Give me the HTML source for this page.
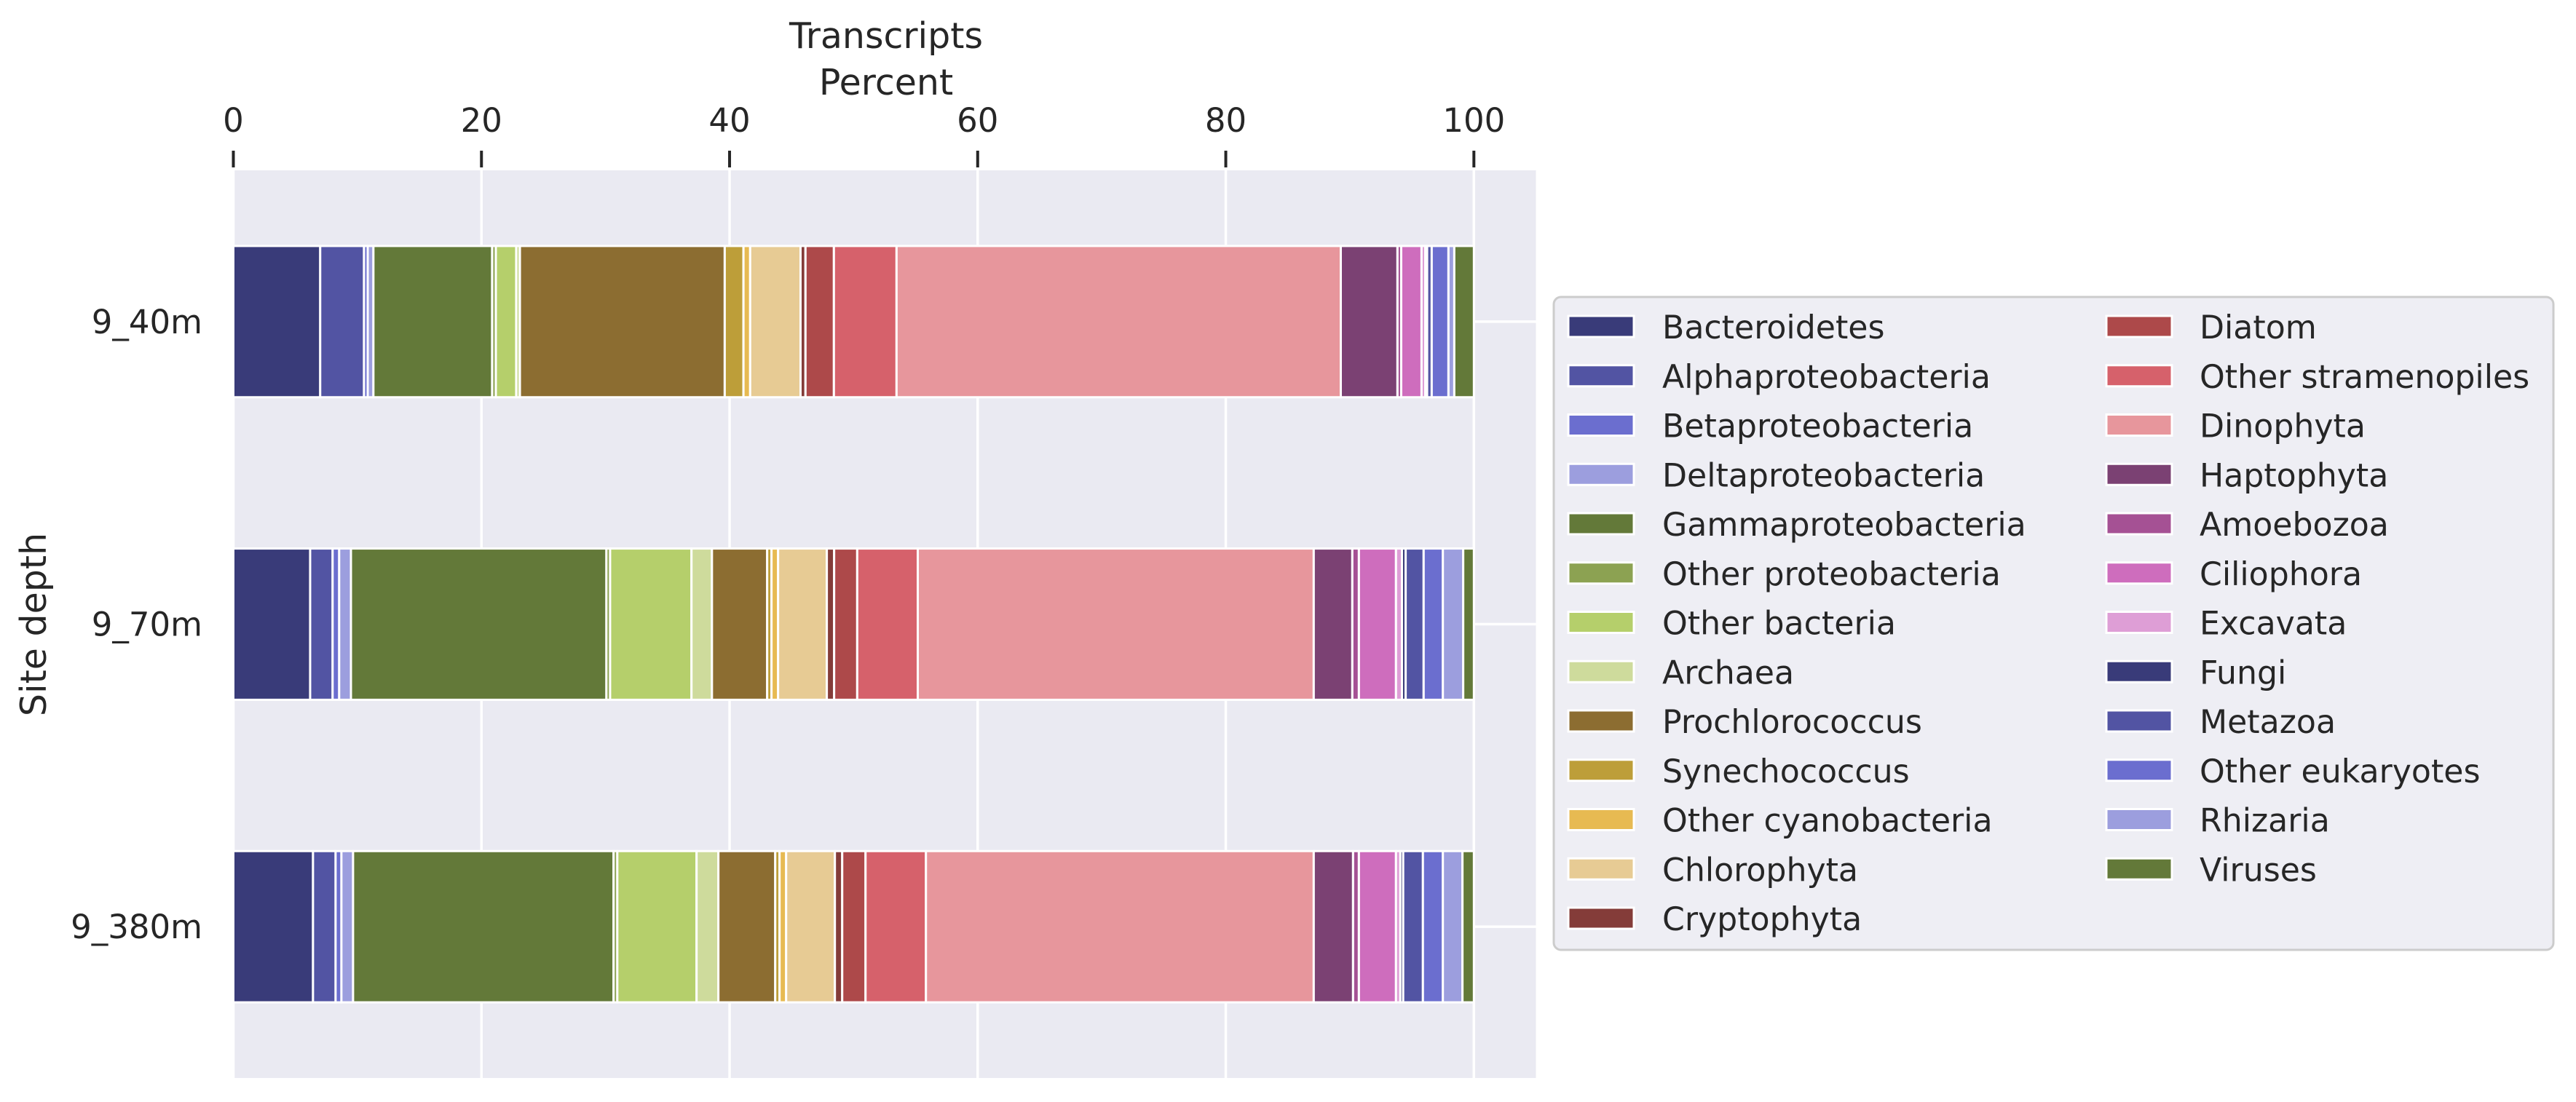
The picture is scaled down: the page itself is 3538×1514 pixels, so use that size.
<!DOCTYPE html>
<html><head><meta charset="utf-8"><style>
html,body{margin:0;padding:0;background:#fff;}
svg{display:block;font-family:"DejaVu Sans","Liberation Sans",sans-serif;}
</style></head><body>
<svg id="chart" width="3538" height="1514" viewBox="0 0 3538 1514" xmlns="http://www.w3.org/2000/svg">
<rect x="320.5" y="234" width="1789" height="1247" fill="#eaeaf2"/>
<g id="grid"></g>
<g id="bars"></g>
<g id="axes"></g>
<text x="1217" y="66" font-size="49" text-anchor="middle" fill="#262626">Transcripts</text>
<text x="1217" y="130" font-size="49" text-anchor="middle" fill="#262626">Percent</text>
<text transform="translate(63,858) rotate(-90)" font-size="49" text-anchor="middle" fill="#262626">Site depth</text>
<g id="legend"></g>
</svg>
<script>
const categories = ["9_40m","9_70m","9_380m"];
const taxa = ["Bacteroidetes","Alphaproteobacteria","Betaproteobacteria","Deltaproteobacteria","Gammaproteobacteria","Other proteobacteria","Other bacteria","Archaea","Prochlorococcus","Synechococcus","Other cyanobacteria","Chlorophyta","Cryptophyta","Diatom","Other stramenopiles","Dinophyta","Haptophyta","Amoebozoa","Ciliophora","Excavata","Fungi","Metazoa","Other eukaryotes","Rhizaria","Viruses"];
const colors = ["#393b79","#5254a3","#6b6ecf","#9c9ede","#637939","#8ca252","#b5cf6b","#cedb9c","#8c6d31","#bd9e39","#e7ba52","#e7cb94","#843c39","#ad494a","#d6616b","#e7969c","#7b4173","#a55194","#ce6dbd","#de9ed6","#393b79","#5254a3","#6b6ecf","#9c9ede","#637939"];
const values_40m  = [7.0,3.53,0.3,0.46,9.57,0.3,1.64,0.3,16.51,1.51,0.54,4.06,0.4,2.29,5.05,35.81,4.57,0.3,1.64,0.3,0.15,0.37,1.35,0.47,1.58];
const values_70m  = [6.19,1.81,0.53,0.95,20.59,0.3,6.56,1.65,4.45,0.35,0.53,3.93,0.59,1.86,4.88,31.92,3.11,0.53,2.99,0.48,0.3,1.45,1.55,1.64,0.86];
const values_380m = [6.42,1.82,0.47,0.94,21.0,0.3,6.39,1.76,4.58,0.35,0.53,3.93,0.59,1.88,4.87,31.26,3.17,0.47,2.99,0.35,0.23,1.59,1.61,1.58,0.92];
const series = [values_40m, values_70m, values_380m];
const xTicks = [0,20,40,60,80,100];

const NS="http://www.w3.org/2000/svg";
const X0=320.5, X1=2109.5, XMAX=105, Y0=234, Y1=1481;
const xs = v => X0 + v*(X1-X0)/XMAX;
const ys = i => Y0 + (i+0.5)*(Y1-Y0)/3;
const bandH = (Y1-Y0)/3*0.5;
function mk(tag, attrs, parent){const e=document.createElementNS(NS,tag);for(const k in attrs)e.setAttribute(k,attrs[k]);parent.appendChild(e);return e;}
const grid=document.getElementById('grid'), bars=document.getElementById('bars'), axes=document.getElementById('axes'), legend=document.getElementById('legend');
xTicks.forEach(t=>{
  const l=mk('line',{x1:xs(t),x2:xs(t),y1:Y0,y2:Y1,stroke:'#fff','stroke-width':3.5},grid);
  
  
  const tk=mk('line',{x1:xs(t),x2:xs(t),y1:207,y2:230,stroke:'#262626','stroke-width':4},axes);
  
  
  const tx=mk('text',{x:xs(t),y:181,'font-size':45,'text-anchor':'middle',fill:'#262626'},axes);
  tx.textContent=t;
  
  
});
categories.forEach((c,i)=>{
  const l=mk('line',{x1:X0,x2:X1,y1:ys(i),y2:ys(i),stroke:'#fff','stroke-width':3.5},grid);
  
  
  const tx=mk('text',{x:278,y:ys(i)+16,'font-size':45,'text-anchor':'end',fill:'#262626'},axes);
  tx.textContent=c;
  
  
  let acc=0;
  series[i].forEach((v,j)=>{
    const r=mk('rect',{x:xs(acc),y:ys(i)-bandH/2,width:Math.max(0,xs(acc+v)-xs(acc)),height:bandH,fill:colors[j],stroke:'#fff','stroke-width':3},bars);
    
    
    acc+=v;
  });
});
const box=mk('rect',{x:2134,y:408,width:1373,height:897,rx:10,fill:'#eeeef4',stroke:'#cccccc','stroke-width':3},legend);


taxa.forEach((t,j)=>{
  const col=j<13?0:1, row=j<13?j:j-13;
  const px=col?2893:2154, tx=col?3021:2283, cy=449+row*67.75;
  const g=mk('g',{},legend);
  
  
  mk('rect',{x:px,y:cy-15,width:90,height:29,fill:colors[j],stroke:'#fff','stroke-width':3},g);
  const te=mk('text',{x:tx,y:cy+16,'font-size':44.2,fill:'#262626'},g);
  te.textContent=t;
});
</script>
</body></html>
